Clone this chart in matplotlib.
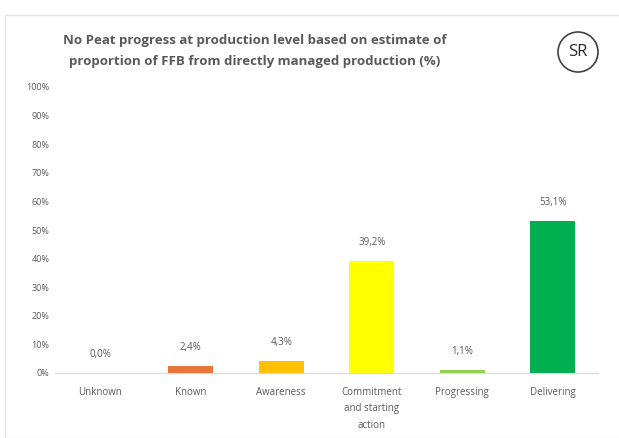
import matplotlib.pyplot as plt
from matplotlib.patches import Ellipse, Rectangle

categories = ['Unknown', 'Known', 'Awareness', 'Commitment\nand starting\naction', 'Progressing', 'Delivering']
values = [0.0, 2.4, 4.3, 39.2, 1.1, 53.1]
colors = ['#BFBFBF', '#E8763A', '#FFC000', '#FFFF00', '#92D050', '#00B050']
yticks = list(range(0, 101, 10))

plt.rcParams['font.family'] = ['Open Sans', 'DejaVu Sans']
grey = '#595959'

fig = plt.figure(figsize=(6.19, 4.38), dpi=100)
fig.patch.set_facecolor('white')

# faint chart-area border
fig.add_artist(Rectangle((5/619, 0), 1, 1 - 15/438, transform=fig.transFigure,
                         fill=False, edgecolor='#E3E3E3', linewidth=1))

ax = fig.add_axes([55/619, 65/438, 543/619, 286/438])
x = range(len(categories))
bars = ax.bar(x, values, width=0.5, color=colors)

for i, v in enumerate(values):
    ax.text(i, v + 4.5, '{:.1f}%'.format(v).replace('.', ','), ha='center', va='bottom',
            fontsize=7, color=grey)

ax.set_xlim(-0.5, len(categories) - 0.5)
ax.set_ylim(0, 100)
ax.set_yticks(yticks)
ax.set_yticklabels(['{}%'.format(t) for t in yticks], fontsize=6.5, color=grey)
ax.set_xticks(list(x))
ax.set_xticklabels(categories, fontsize=7, color=grey, linespacing=1.7)
ax.tick_params(axis='both', length=0, pad=4)
ax.tick_params(axis='x', pad=10)
for s in ['top', 'right', 'left']:
    ax.spines[s].set_visible(False)
ax.spines['bottom'].set_color('#D9D9D9')

fig.text(255/619, 1 - 51/438,
         'No Peat progress at production level based on estimate of\n'
         'proportion of FFB from directly managed production (%)',
         ha='center', va='center', fontsize=9.5, fontweight='bold', color=grey,
         linespacing=1.75)

fig.add_artist(Ellipse((578/619, 1 - 52/438), 40/619, 40/438, transform=fig.transFigure,
                       fill=False, edgecolor='#404040', linewidth=1.2))
fig.text(578/619, 1 - 52/438, 'SR', ha='center', va='center', fontsize=12, color='#262626')

fig.savefig('out.png', dpi=100)
